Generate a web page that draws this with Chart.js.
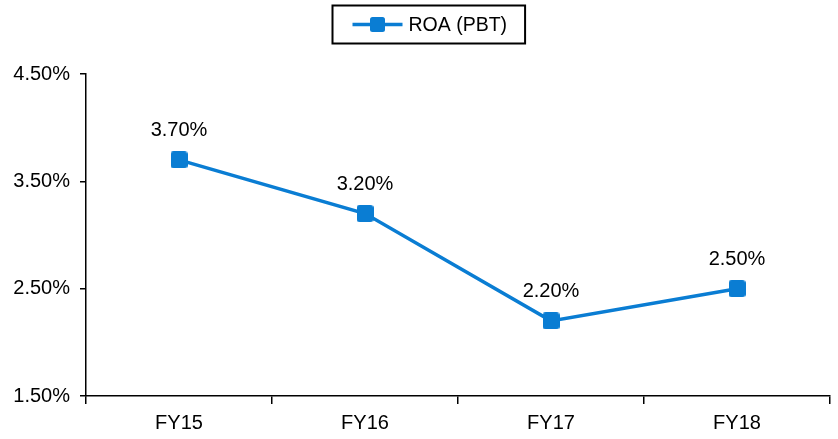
<!DOCTYPE html>
<html>
<head>
<meta charset="utf-8">
<script src="https://cdn.jsdelivr.net/npm/chart.js@4/dist/chart.umd.min.js"></script>
<style>
  html, body { margin: 0; padding: 0; background: #ffffff; }
  #wrap { width: 838px; height: 439px; position: relative; }
</style>
</head>
<body>
<div id="wrap"><canvas id="c" width="838" height="439"></canvas></div>
<script>
const categories = ['FY15', 'FY16', 'FY17', 'FY18'];
const roaPbt = [3.70, 3.20, 2.20, 2.50];
const yTicks = [1.5, 2.5, 3.5, 4.5];
const seriesName = 'ROA (PBT)';

const LINE_COLOR = '#0a7dd3';
const FONT = 'Arial, "Liberation Sans", sans-serif';

// Square marker with slightly rounded corners
function squareMarker(side, radius, color) {
  const c = document.createElement('canvas');
  c.width = side; c.height = side;
  const g = c.getContext('2d');
  g.fillStyle = color;
  g.beginPath();
  g.roundRect(0, 0, side, side, radius);
  g.fill();
  return c;
}
const pointMarker = squareMarker(17, 3, LINE_COLOR);

// Value labels above each point
const valueLabels = {
  id: 'valueLabels',
  afterDatasetsDraw(chart) {
    const ctx = chart.ctx;
    const meta = chart.getDatasetMeta(0);
    ctx.save();
    ctx.font = '20px ' + FONT;
    ctx.fillStyle = '#000';
    ctx.textAlign = 'center';
    ctx.textBaseline = 'middle';
    meta.data.forEach((pt, i) => {
      const v = chart.data.datasets[0].data[i];
      ctx.fillText(v.toFixed(2) + '%', pt.x, pt.y - 29);
    });
    ctx.restore();
  }
};

// Boxed legend: line with square marker, then series name
const boxedLegend = {
  id: 'boxedLegend',
  afterDraw(chart) {
    const ctx = chart.ctx;
    const ds = chart.data.datasets[0];
    ctx.save();
    ctx.font = '19.5px ' + FONT;
    const textW = ctx.measureText(ds.label).width;
    const lineW = 50, gap = 6, padL = 20, padR = 18;
    const boxW = padL + lineW + gap + textW + padR;
    const boxH = 38;
    const x0 = 332.5, y0 = 5.5;
    ctx.strokeStyle = '#000';
    ctx.lineWidth = 2;
    ctx.strokeRect(x0, y0, boxW, boxH);
    const ly = y0 + boxH / 2;
    ctx.strokeStyle = ds.borderColor;
    ctx.lineWidth = 3.5;
    ctx.beginPath();
    ctx.moveTo(x0 + padL, ly);
    ctx.lineTo(x0 + padL + lineW, ly);
    ctx.stroke();
    const s = 15;
    ctx.drawImage(squareMarker(s, 2.5, ds.borderColor), x0 + padL + lineW / 2 - s / 2, ly - s / 2);
    ctx.fillStyle = '#000';
    ctx.textBaseline = 'middle';
    ctx.textAlign = 'left';
    ctx.fillText(ds.label, x0 + padL + lineW + gap, ly + 1);
    ctx.restore();
  }
};

new Chart(document.getElementById('c'), {
  type: 'line',
  data: {
    labels: categories,
    datasets: [{
      label: seriesName,
      data: roaPbt,
      borderColor: LINE_COLOR,
      backgroundColor: LINE_COLOR,
      borderWidth: 3.5,
      pointStyle: pointMarker,
      pointRadius: 9,
      pointHoverRadius: 9,
      tension: 0,
      fill: false
    }]
  },
  options: {
    responsive: false,
    animation: false,
    devicePixelRatio: 1,
    layout: { autoPadding: false, padding: { top: 74, right: 8, left: 0, bottom: 0 } },
    plugins: {
      legend: { display: false },
      tooltip: { enabled: false }
    },
    scales: {
      x: {
        offset: true,
        grid: {
          offset: true,
          drawOnChartArea: false,
          drawTicks: true,
          tickLength: 8,
          color: '#000',
          lineWidth: 1.5
        },
        border: { color: '#000', width: 1.5 },
        ticks: {
          color: '#000',
          font: { family: FONT, size: 20 },
          padding: 7,
          maxRotation: 0
        },
        afterFit(scale) {
          scale.height = 43;
          scale.paddingLeft = 0;
          scale.paddingRight = 0;
        }
      },
      y: {
        min: 1.5,
        max: 4.5,
        afterBuildTicks(scale) { scale.ticks = yTicks.map(v => ({ value: v })); },
        grid: {
          drawOnChartArea: false,
          drawTicks: true,
          tickLength: 6,
          color: '#000',
          lineWidth: 1.5
        },
        border: { color: '#000', width: 1.5 },
        ticks: {
          color: '#000',
          font: { family: FONT, size: 20 },
          padding: 10,
          callback: v => Number(v).toFixed(2) + '%'
        },
        afterFit(scale) { scale.width = 86; }
      }
    }
  },
  plugins: [valueLabels, boxedLegend]
});
</script>
</body>
</html>
